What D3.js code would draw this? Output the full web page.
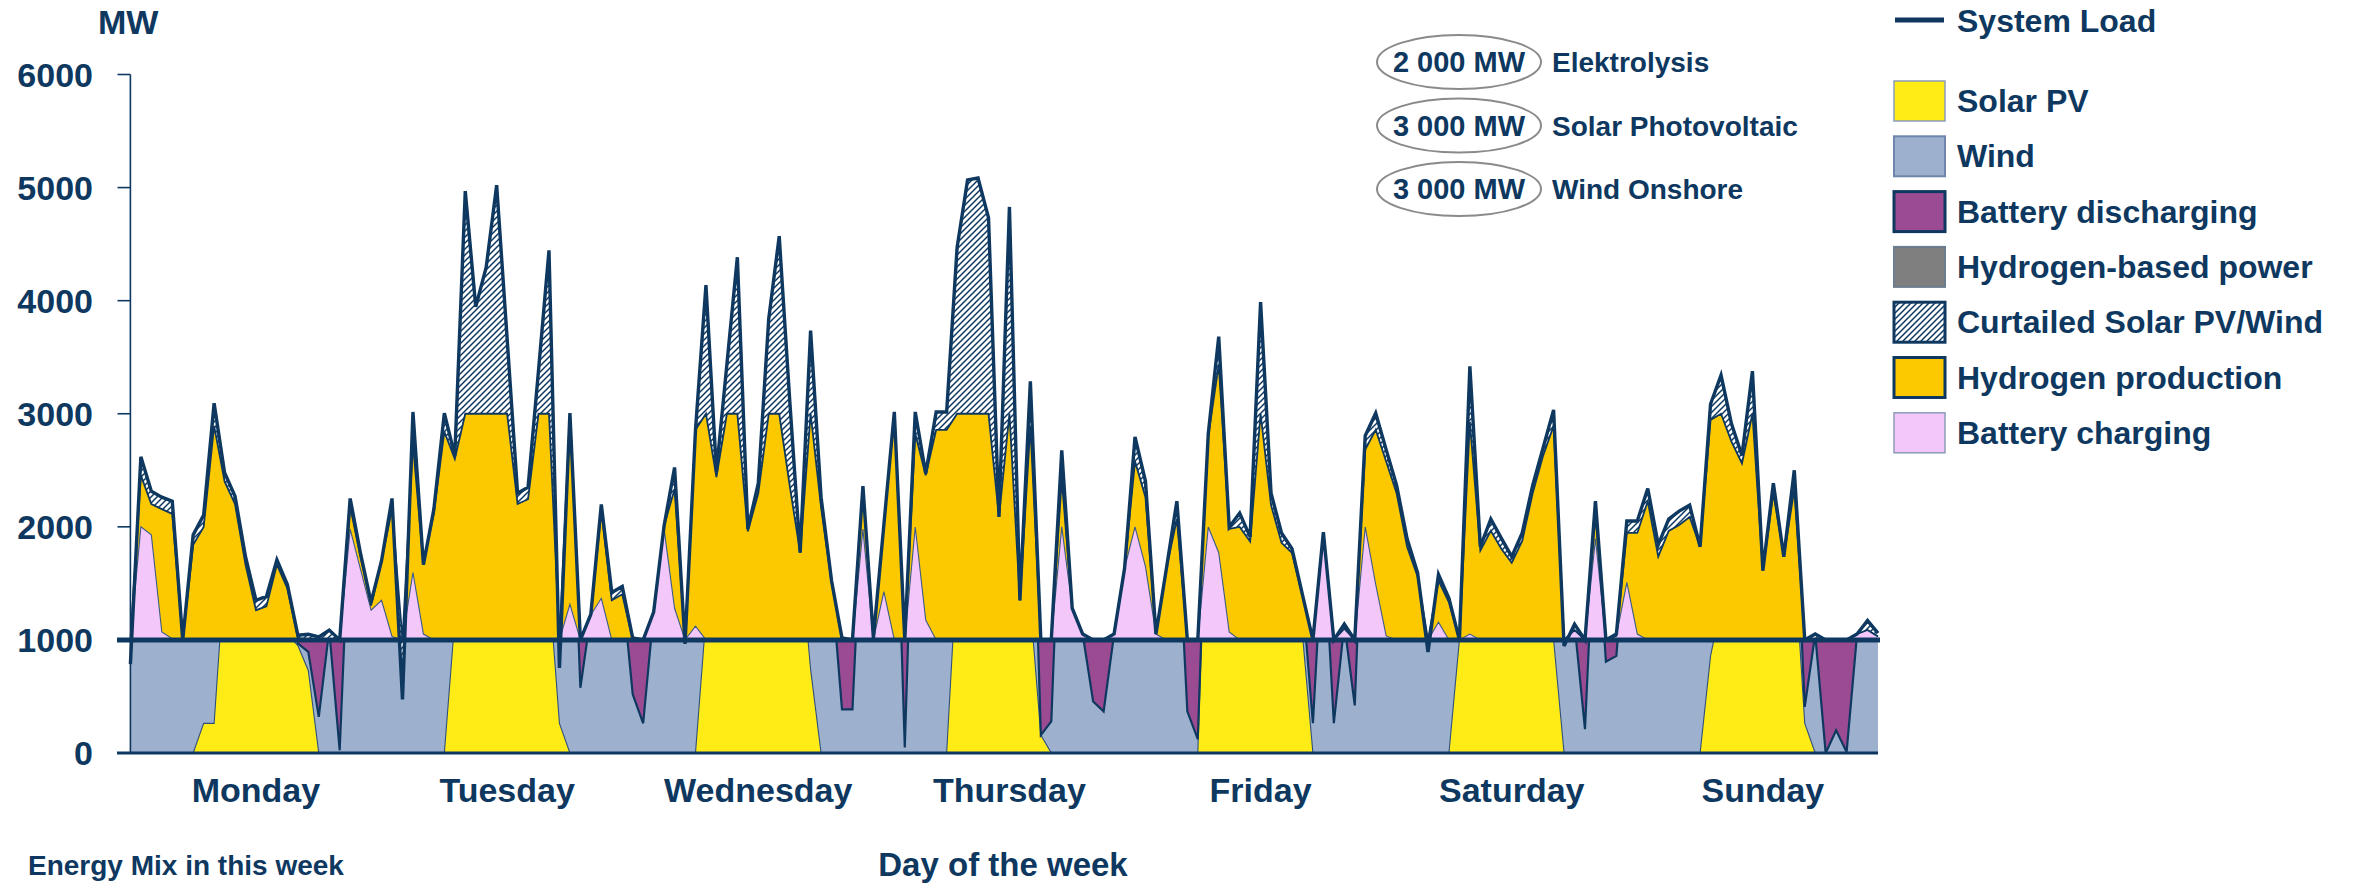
<!DOCTYPE html>
<html>
<head>
<meta charset="utf-8">
<script src="https://cdn.jsdelivr.net/npm/d3@7"></script>
<style>
  html, body { margin: 0; padding: 0; background: #ffffff; }
  svg text { font-family: "Liberation Sans", Arial, sans-serif; font-weight: 700; }
</style>
</head>
<body>
<script>
// ---------------- DATA (MW, hourly, Monday 00:00 .. Sunday 23:00) ----------------
const days = ["Monday", "Tuesday", "Wednesday", "Thursday", "Friday", "Saturday", "Sunday"];
const yTicks = [0, 1000, 2000, 3000, 4000, 5000, 6000];
const systemLoad = 1000;

const solar = [
  0,0,0,0,0,0,0,262,262,1604,2000,1700,1340,1380,1700,1050,950,730,0,0,
  0,0,0,0,0,0,0,0,0,0,0,1176,2000,2500,2800,2900,2800,2200,2200,2000,
  1492,262,0,0,0,0,0,0,0,0,0,0,0,0,0,1200,2000,2500,2700,1900,
  2300,2600,2600,2400,1770,740,0,0,0,0,0,0,0,0,0,0,0,0,0,1670,
  2500,2800,2800,2000,2600,1300,1311,158,0,0,0,0,0,0,0,0,0,0,0,0,
  0,0,0,2800,2900,1950,2000,1850,2800,2250,1900,1750,1050,0,0,0,0,0,0,0,
  0,0,0,0,0,0,0,1000,2500,1800,2000,1850,1700,1900,2300,2600,1000,0,0,0,
  0,0,0,0,0,0,0,0,0,0,0,859,1300,2500,2500,2900,1600,2300,1700,1739,
  261,0,0,0,0,0,0,0
];
const wind = [
  1000,2620,2315,2262,2227,1000,1929,1842,2831,875,270,36,10,5,8,440,20,165,320,1087,
  24,2251,1760,1333,1700,2251,835,3016,1666,2157,3005,1454,2969,1445,1496,2122,865,97,150,1384,
  2953,738,3005,577,1227,2199,1420,1473,520,263,1245,2010,2525,1000,2858,2938,490,937,1684,81,
  85,1240,1970,725,1,2995,2262,1525,386,386,2360,1017,2017,3016,50,3016,2472,3016,3016,2801,
  2568,2285,1934,87,2229,50,1975,0,280,2676,1280,1052,456,368,1052,1631,2795,2402,1052,1631,
  2227,368,123,23,782,49,122,61,1188,47,46,56,350,263,1953,263,1140,421,2806,3005,
  2683,2367,1894,1596,1000,1578,1368,0,919,24,69,50,36,46,67,100,2034,1000,1140,210,
  2227,807,859,2052,2052,2339,1841,2069,2139,2192,1824,2227,2042,411,130,477,13,85,36,761,
  147,1052,0,201,9,1052,1171,1060
];
const batteryDischarging = [
  0,0,0,0,0,0,0,0,0,0,0,0,0,0,0,0,30,105,680,0,
  976,0,0,0,0,0,165,0,0,0,0,0,0,0,0,0,0,0,0,0,
  0,0,0,423,0,0,0,0,480,737,0,0,0,0,0,0,0,0,0,0,
  0,0,0,0,0,0,0,0,614,614,0,0,0,0,950,0,0,0,0,0,
  0,0,0,0,0,0,0,842,720,0,0,0,544,632,0,0,0,0,0,0,
  0,632,877,0,0,0,0,0,0,0,0,0,0,737,0,737,0,579,0,0,
  0,0,0,0,0,0,0,0,0,0,0,0,0,0,0,0,0,0,0,790,
  0,193,141,0,0,0,0,0,0,0,0,0,0,0,0,0,0,0,0,0,
  592,0,1000,799,991,0,0,0
];
const batteryCharging = [
  0,1000,930,70,10,0,0,0,0,0,0,0,0,0,0,0,0,0,0,0,
  0,980,620,263,350,30,0,596,52,0,0,0,0,0,0,0,0,0,0,0,
  0,0,315,0,220,368,0,0,0,0,245,980,280,0,122,0,0,0,0,0,
  0,0,0,0,0,0,0,0,0,0,980,0,427,0,0,999,175,0,0,0,
  0,0,0,0,0,0,0,0,0,1000,280,52,0,0,52,631,999,648,52,0,
  0,0,0,999,771,70,0,0,0,0,0,0,0,0,953,0,100,0,999,490,
  35,0,0,0,0,157,0,0,52,0,0,0,0,0,0,0,0,0,87,0,
  894,0,35,508,52,0,0,0,0,0,0,0,0,0,0,0,0,0,0,0,
  0,0,0,0,0,52,88,30
];
const hydrogenProduction = [
  0,455,272,1087,1105,0,841,999,1893,1402,1200,666,263,298,666,455,17,0,0,0,
  0,200,110,40,350,1127,0,1139,614,1122,1841,1600,2000,2000,2000,2000,2000,1202,1244,2000,
  2000,0,1690,0,0,780,350,403,0,0,0,30,1052,0,1736,2000,1440,2000,2000,960,
  1297,2000,2000,1367,771,2000,1174,510,0,0,380,0,590,2000,0,824,1280,1858,1858,2000,
  2000,2000,2000,1087,2000,350,1893,0,0,420,0,0,0,0,0,0,580,614,0,631,
  1069,0,0,800,1666,911,999,870,2000,1192,859,771,390,0,0,0,0,0,684,1368,
  1543,1297,824,561,0,368,333,0,1876,790,964,806,683,876,1297,1630,1893,0,0,0,
  200,0,0,438,894,1227,736,964,1017,1087,824,1946,2000,1753,1560,2000,613,1297,736,1332,
  0,0,0,0,0,0,0,0
];
const curtailed = [
  -214,165,113,105,112,0,88,105,200,77,70,70,87,87,42,35,25,50,27,87,
  0,71,30,30,0,94,-527,281,0,35,164,30,1969,945,1296,2022,665,95,106,384,
  1445,-248,0,0,7,51,70,70,17,0,0,0,193,-36,0,1138,50,437,1384,21,
  88,840,1570,758,0,735,88,15,17,0,0,17,0,16,0,193,17,158,158,1471,
  2068,2085,1734,0,1829,0,393,0,0,256,0,0,0,0,0,0,216,140,0,0,
  158,0,0,24,245,18,123,41,988,105,87,35,10,0,0,0,40,0,123,147,
  105,70,70,35,-106,53,35,0,491,34,105,94,53,70,70,70,141,-53,53,0,
  133,0,17,106,106,112,105,105,122,105,0,140,342,158,70,377,0,88,0,168,
  0,52,0,0,0,0,83,30
];

const capacities = [
  { mw: "2 000 MW", label: "Elektrolysis" },
  { mw: "3 000 MW", label: "Solar Photovoltaic" },
  { mw: "3 000 MW", label: "Wind Onshore" }
];

// ---------------- STYLE ----------------
const NAVY = "#0E3860";
const C = {
  solar: "#FFEC16", wind: "#9DB0CE", discharge: "#9B4B91", h2power: "#7F7F7F",
  h2prod: "#FCC900", charge: "#F4C7FB"
};

const W = 2357, H = 883;
const svg = d3.select("body").append("svg").attr("width", W).attr("height", H);
const defs = svg.append("defs");

const hatch = defs.append("pattern").attr("id", "hatch")
  .attr("patternUnits", "userSpaceOnUse").attr("width", 6).attr("height", 6);
hatch.append("rect").attr("width", 6).attr("height", 6).attr("fill", "#fff");
hatch.append("path").attr("d", "M-1,1 l2,-2 M0,6 l6,-6 M5,7 l2,-2")
  .attr("stroke", NAVY).attr("stroke-width", 1.5);

const N = solar.length;
const idx = d3.range(N);
const x = d3.scaleLinear().domain([0, N - 1]).range([130.4, 1878]);
const y = d3.scaleLinear().domain([0, 6000]).range([753, 74.5]);

const rows = idx.map(i => ({
  solar: solar[i], wind: wind[i], discharge: batteryDischarging[i],
  charge: batteryCharging[i], h2prod: hydrogenProduction[i], curtailed: curtailed[i]
}));

const lowerStack = d3.stack().keys(["solar", "wind", "discharge"])(rows);
const upperStack = d3.stack().keys(["charge", "h2prod", "curtailed"])(rows);

defs.append("clipPath").attr("id", "below-load").append("rect")
  .attr("x", x(0)).attr("y", y(systemLoad))
  .attr("width", x(N - 1) - x(0)).attr("height", y(0) - y(systemLoad));

const lowerArea = d3.area().x((d, i) => x(i)).y0(d => y(d[0])).y1(d => y(d[1]));
const lowerLine = d3.line().x((d, i) => x(i)).y(d => y(d[1]));
const upperArea = d3.area().x((d, i) => x(i))
  .y0(d => y(systemLoad + d[0])).y1(d => y(systemLoad + d[1]));
const upperLine = d3.line().x((d, i) => x(i)).y(d => y(systemLoad + d[1]));

// lower part (supply to the load)
const gLow = svg.append("g").attr("clip-path", "url(#below-load)");
const lowFill = { solar: C.solar, wind: C.wind, discharge: C.discharge };
lowerStack.forEach(s => {
  gLow.append("path").attr("d", lowerArea(s)).attr("fill", lowFill[s.key]);
});
gLow.append("path").attr("d", lowerLine(lowerStack[0])).attr("fill", "none")
  .attr("stroke", "#2f4f78").attr("stroke-width", 1.1);
gLow.append("path").attr("d", lowerLine(lowerStack[1])).attr("fill", "none")
  .attr("stroke", NAVY).attr("stroke-width", 2.2);

// upper part (surplus above the load)
const gUp = svg.append("g");
const upFill = { charge: C.charge, h2prod: C.h2prod, curtailed: "url(#hatch)" };
upperStack.forEach(s => {
  gUp.append("path").attr("d", upperArea(s)).attr("fill", upFill[s.key]);
});
gUp.append("path").attr("d", upperLine(upperStack[0])).attr("fill", "none")
  .attr("stroke", "#3d5a86").attr("stroke-width", 1.1);
gUp.append("path").attr("d", upperLine(upperStack[1])).attr("fill", "none")
  .attr("stroke", NAVY).attr("stroke-width", 1.8);
gUp.append("path").attr("d", upperLine(upperStack[2])).attr("fill", "none")
  .attr("stroke", NAVY).attr("stroke-width", 3.4).attr("stroke-linejoin", "miter");

// system load line
svg.append("line").attr("x1", 117).attr("x2", x(N - 1) + 2)
  .attr("y1", y(systemLoad)).attr("y2", y(systemLoad))
  .attr("stroke", NAVY).attr("stroke-width", 5);

// axes
svg.append("line").attr("x1", x(0)).attr("x2", x(0)).attr("y1", y(0)).attr("y2", y(6000))
  .attr("stroke", NAVY).attr("stroke-width", 1.6);
yTicks.forEach(v => {
  svg.append("line").attr("x1", 117.5).attr("x2", x(0)).attr("y1", y(v)).attr("y2", y(v))
    .attr("stroke", NAVY).attr("stroke-width", 1.6);
  svg.append("text").attr("x", 93).attr("y", y(v) + 12).attr("text-anchor", "end")
    .attr("font-size", 34).attr("fill", NAVY).text(v);
});
svg.append("line").attr("x1", 117).attr("x2", x(N - 1)).attr("y1", y(0)).attr("y2", y(0))
  .attr("stroke", NAVY).attr("stroke-width", 3);

days.forEach((dname, i) => {
  svg.append("text").attr("x", x(24 * i + 12)).attr("y", 802).attr("text-anchor", "middle")
    .attr("font-size", 34).attr("fill", NAVY).text(dname);
});

svg.append("text").attr("x", 98).attr("y", 34).attr("font-size", 34).attr("fill", NAVY).text("MW");
svg.append("text").attr("x", 1003).attr("y", 876).attr("text-anchor", "middle")
  .attr("font-size", 33).attr("fill", NAVY).text("Day of the week");
svg.append("text").attr("x", 28).attr("y", 875).attr("font-size", 28).attr("fill", NAVY)
  .text("Energy Mix in this week");

// capacity annotations
capacities.forEach((c, i) => {
  const cy = 62 + i * 63.5;
  svg.append("ellipse").attr("cx", 1459).attr("cy", cy).attr("rx", 82).attr("ry", 27)
    .attr("fill", "#fff").attr("stroke", "#8a8a8a").attr("stroke-width", 2);
  svg.append("text").attr("x", 1459).attr("y", cy + 10).attr("text-anchor", "middle")
    .attr("font-size", 29).attr("fill", NAVY).text(c.mw);
  svg.append("text").attr("x", 1552).attr("y", cy + 10)
    .attr("font-size", 28).attr("fill", NAVY).text(c.label);
});

// legend
svg.append("line").attr("x1", 1895).attr("x2", 1944).attr("y1", 20).attr("y2", 20)
  .attr("stroke", NAVY).attr("stroke-width", 5);
svg.append("text").attr("x", 1957).attr("y", 32).attr("font-size", 32).attr("fill", NAVY)
  .text("System Load");

const legendItems = [
  { label: "Solar PV", fill: C.solar, stroke: "#8c9cb8", sw: 1.5 },
  { label: "Wind", fill: C.wind, stroke: "#6e86ac", sw: 2 },
  { label: "Battery discharging", fill: C.discharge, stroke: NAVY, sw: 3 },
  { label: "Hydrogen-based power", fill: C.h2power, stroke: "#6d7d90", sw: 2 },
  { label: "Curtailed Solar PV/Wind", fill: "url(#hatch)", stroke: NAVY, sw: 3 },
  { label: "Hydrogen production", fill: C.h2prod, stroke: NAVY, sw: 3 },
  { label: "Battery charging", fill: C.charge, stroke: "#8c9cb8", sw: 1.5 }
];
legendItems.forEach((it, i) => {
  const cy = 101 + i * 55.3;
  svg.append("rect").attr("x", 1894).attr("y", cy - 20).attr("width", 51).attr("height", 40)
    .attr("fill", it.fill).attr("stroke", it.stroke).attr("stroke-width", it.sw);
  svg.append("text").attr("x", 1957).attr("y", cy + 11).attr("font-size", 32).attr("fill", NAVY)
    .text(it.label);
});
</script>
</body>
</html>
